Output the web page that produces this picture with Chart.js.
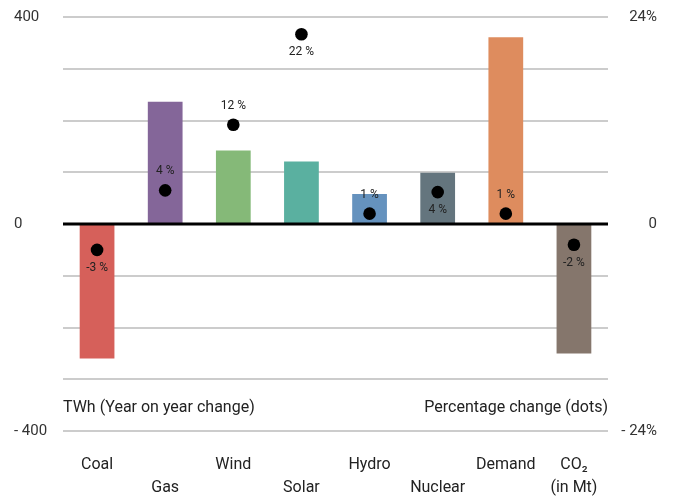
<!DOCTYPE html>
<html>
<head>
<meta charset="utf-8">
<script src="https://cdn.jsdelivr.net/npm/chart.js@4/dist/chart.umd.min.js"></script>
<style>
  body { margin: 0; background: #fff; }
  canvas { display: block; }
</style>
</head>
<body>
<canvas id="grafica" width="673" height="497"></canvas>
<script>
// Data
const categorias = [["Coal", ""], ["", "Gas"], ["Wind", ""], ["", "Solar"], ["Hydro", ""], ["", "Nuclear"], ["Demand", ""], ["CO₂", "(in Mt)"]];
const cambioTWh = [-260, 236, 142, 121, 58, 99, 361, -250];
const cambioPct = [-3.0, 3.9, 11.5, 22.0, 1.2, 3.7, 1.2, -2.4];
const textoPct = ["-3 %", "4 %", "12 %", "22 %", "1 %", "4 %", "1 %", "-2 %"];
const ladoEtiqueta = ["below", "above", "above", "below", "above", "below", "above", "below"];
const colores = ["#d6605a", "#846699", "#85b978", "#5ab0a0", "#6592be", "#64757e", "#de8c5e", "#85766c"];

const fuente = "Roboto, 'Liberation Sans', sans-serif";

// Zero line + dot labels + inner axis titles
const extras = {
  id: "extras",
  afterDatasetsDraw(chart) {
    const { ctx, chartArea, scales } = chart;
    const y0 = scales.y.getPixelForValue(0);
    ctx.save();
    ctx.strokeStyle = "#000";
    ctx.lineWidth = 3;
    ctx.beginPath();
    ctx.moveTo(chartArea.left, y0);
    ctx.lineTo(chartArea.right, y0);
    ctx.stroke();

    // etiquetas de porcentaje
    const meta = chart.getDatasetMeta(1);
    ctx.fillStyle = "#222";
    ctx.font = "12px " + fuente;
    ctx.textAlign = "center";
    ctx.textBaseline = "middle";
    meta.data.forEach((p, i) => {
      const dy = ladoEtiqueta[i] === "above" ? -19 : 18;
      ctx.fillText(textoPct[i], p.x, p.y + dy);
    });

    // titulos dentro del grafico
    ctx.fillStyle = "#222";
    ctx.font = "16px " + fuente;
    const yt = scales.y.getPixelForValue(-355);
    ctx.textAlign = "left";
    ctx.fillText("TWh (Year on year change)", chartArea.left, yt);
    ctx.textAlign = "right";
    ctx.fillText("Percentage change (dots)", chartArea.right, yt);
    ctx.restore();
  }
};

new Chart(document.getElementById("grafica").getContext("2d"), {
  type: "bar",
  data: {
    labels: categorias,
    datasets: [{
      label: "TWh",
      data: cambioTWh,
      backgroundColor: colores,
      barPercentage: 0.51,
      categoryPercentage: 1,
      yAxisID: "y",
      order: 1
    }, {
      type: "line",
      label: "%",
      data: cambioPct,
      showLine: false,
      pointRadius: 6.3,
      pointBackgroundColor: "#000",
      pointBorderWidth: 0,
      yAxisID: "y2",
      order: 0
    }]
  },
  options: {
    responsive: false,
    animation: false,
    layout: { padding: { left: 14, right: 16, top: 17, bottom: 0 } },
    plugins: {
      legend: { display: false },
      tooltip: { enabled: false }
    },
    scales: {
      x: {
        grid: { display: false, drawTicks: false },
        border: { display: false },
        ticks: {
          autoSkip: false,
          maxRotation: 0,
          padding: 22,
          color: "#222",
          font: { family: fuente, size: 16, lineHeight: 1.44 }
        },
        afterFit(scale) { scale.height = 66; }
      },
      y: {
        position: "left",
        min: -400,
        max: 400,
        grid: {
          color: ctx => ctx.tick.value === 0 ? "rgba(0,0,0,0)" : "#cccccc",
          lineWidth: 2,
          drawTicks: false
        },
        border: { display: false },
        ticks: {
          stepSize: 100,
          crossAlign: "far",
          padding: 0,
          color: "#333",
          font: { family: fuente, size: 15 },
          callback: v => v === 400 ? "400" : v === 0 ? "0" : v === -400 ? "- 400" : ""
        },
        afterFit(scale) { scale.width = 49; }
      },
      y2: {
        position: "right",
        min: -24,
        max: 24,
        grid: { display: false, drawTicks: false },
        border: { display: false },
        ticks: {
          stepSize: 24,
          crossAlign: "far",
          padding: 0,
          color: "#333",
          font: { family: fuente, size: 15 },
          callback: v => v === 0 ? "0" : v > 0 ? v + "%" : "- " + Math.abs(v) + "%"
        },
        afterFit(scale) { scale.width = 49; }
      }
    }
  },
  plugins: [extras]
});
</script>
</body>
</html>
